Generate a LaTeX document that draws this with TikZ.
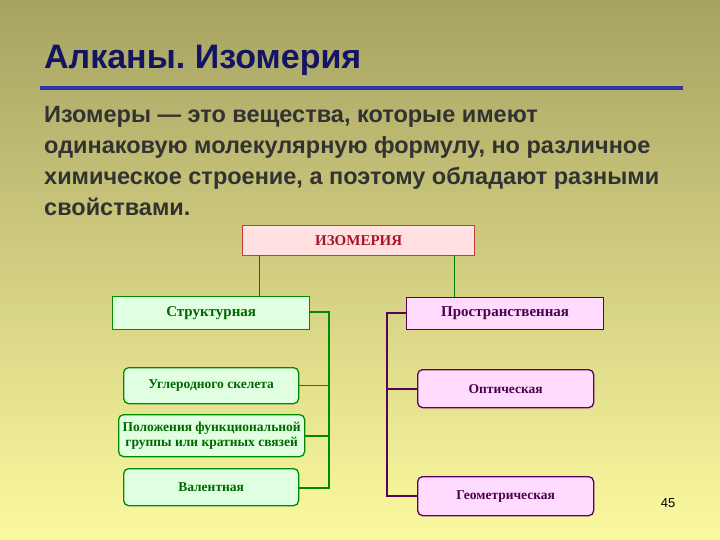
\documentclass[tikz,border=0pt]{standalone}
\usepackage{fontspec}
\setmainfont{Liberation Serif}
\newfontfamily\sansf{Liberation Sans}
\begin{document}
\begin{tikzpicture}[x=1pt,y=-1pt,
  bx/.style={draw,line width=1.3pt,minimum height=0pt,inner sep=0pt,font=\bfseries\fontsize{13.5}{15}\selectfont,align=center},
  gl/.style={draw=green!55!black,line width=1.3pt},
  pl/.style={draw=violet!70!black,line width=1.3pt}]
\shade[top color={rgb,255:red,166;green,162;blue,98}, bottom color={rgb,255:red,252;green,250;blue,160}] (0,0) rectangle (720,540);
\useasboundingbox (0,0) rectangle (720,540);
\node[anchor=west,inner sep=0pt,font=\sansf\bfseries\fontsize{34}{38}\selectfont,text={rgb,255:red,20;green,20;blue,100}] (t) at (44,60) {Алканы.\kern-3pt{} Изомерия};
\draw[line width=4pt,draw={rgb,255:red,50;green,50;blue,170}] (40,88) -- (683,88);
\node[anchor=north west,font=\sansf\bfseries\fontsize{23.5}{31}\selectfont,text={rgb,255:red,50;green,50;blue,50},align=left,inner sep=0pt] (body) at (44,106)
{Изомеры — это вещества, которые имеют\\одинаковую молекулярную формулу, но различное\\химическое строение, а поэтому обладают разными\\свойствами.};
\node[bx,draw={rgb,255:red,200;green,60;blue,60},fill={rgb,255:red,255;green,225;blue,225},text={rgb,255:red,170;green,20;blue,40},minimum width=232pt,minimum height=30pt,anchor=north west,font=\bfseries\fontsize{15}{16}\selectfont] (iz) at (242,225) {ИЗОМЕРИЯ};
\node[bx,gl,fill={rgb,255:red,225;green,255;blue,225},text=green!40!black,minimum width=197pt,minimum height=33pt,anchor=north west,font=\bfseries\fontsize{15}{16}\selectfont] (st) at (112,296) {Структурная};
\node[bx,pl,fill={rgb,255:red,255;green,220;blue,255},text=violet!60!black,minimum width=197pt,minimum height=32pt,anchor=north west,font=\bfseries\fontsize{15}{16}\selectfont] (pr) at (406,297) {Пространственная};
\node[bx,gl,rounded corners=5pt,fill={rgb,255:red,225;green,255;blue,225},text=green!40!black,minimum width=175pt,minimum height=36pt,anchor=north west] (ug) at (123,367) {Углеродного скелета};
\node[bx,gl,rounded corners=5pt,fill={rgb,255:red,225;green,255;blue,225},text=green!40!black,minimum width=186pt,minimum height=42pt,anchor=north west] (po) at (118,414) {Положения функциональной\\группы или кратных связей};
\node[bx,gl,rounded corners=5pt,fill={rgb,255:red,225;green,255;blue,225},text=green!40!black,minimum width=175pt,minimum height=37pt,anchor=north west] (va) at (123,468) {Валентная};
\node[bx,pl,rounded corners=5pt,fill={rgb,255:red,255;green,220;blue,255},text=violet!60!black,minimum width=176pt,minimum height=38pt,anchor=north west] (op) at (417,369) {Оптическая};
\node[bx,pl,rounded corners=5pt,fill={rgb,255:red,255;green,220;blue,255},text=violet!60!black,minimum width=176pt,minimum height=39pt,anchor=north west] (ge) at (417,476) {Геометрическая};
\coordinate (gb1) at (329,312); \coordinate (gb2) at (329,488);
\coordinate (pb1) at (387,313); \coordinate (pb2) at (387,496);
\coordinate (c1) at (259,255); \coordinate (c2) at (454,255);
\draw[draw=green!50!black,line width=1pt] (c1) -- (c1 |- st.north);
\draw[draw=green!50!black,line width=1pt] (c2) -- (c2 |- pr.north);
\draw[gl,line width=2pt] (st.east |- gb1) -- (gb1) -- (gb2) -- (va.east |- gb2);
\draw[gl,line width=1pt] (ug.east) -- (ug.east -| gb1);
\draw[gl,line width=2pt] (po.east) -- (po.east -| gb1);
\draw[pl,line width=2pt] (pr.west |- pb1) -- (pb1) -- (pb2) -- (ge.west |- pb2);
\draw[pl,line width=2pt] (op.west) -- (op.west -| pb1);
\node[font=\sansf\fontsize{13}{14}\selectfont] (pg) at (668,503) {45};
\end{tikzpicture}
\end{document}
